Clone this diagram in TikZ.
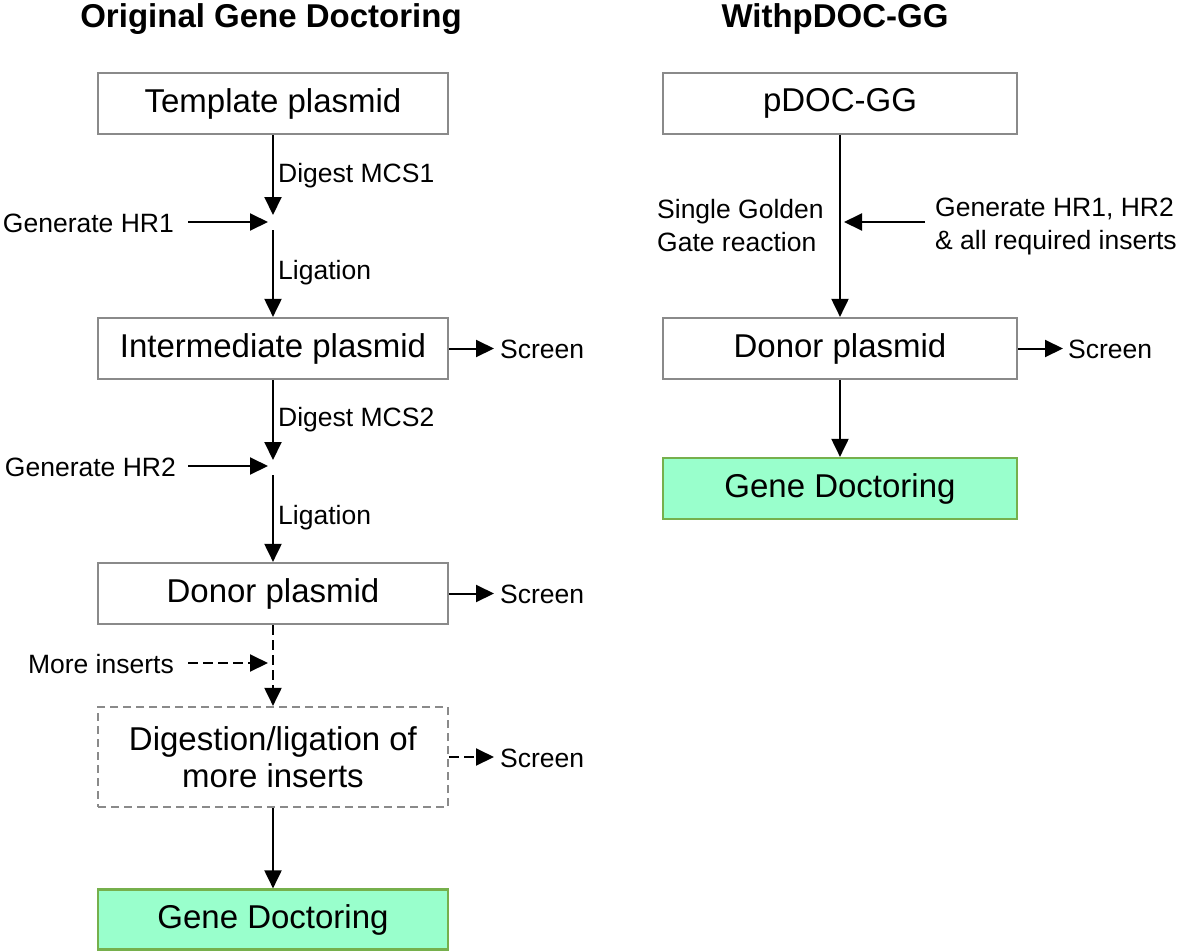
\documentclass[tikz,border=0pt]{standalone}
\usepackage{fontspec}
\setmainfont{Liberation Sans}
\usetikzlibrary{arrows.meta}
\definecolor{boxgray}{RGB}{138,138,138}
\definecolor{gdfill}{RGB}{153,255,204}
\definecolor{gdline}{RGB}{118,176,76}
\begin{document}
\begin{tikzpicture}[x=1pt,y=-1pt,
  box/.style={draw=boxgray,line width=2.2pt,minimum height=61pt,inner sep=0pt,
    font=\fontsize{33}{37}\selectfont,align=center},
  lbox/.style={box,minimum width=350pt},
  rbox/.style={box,minimum width=354pt},
  gdbox/.style={draw=gdline,fill=gdfill},
  dbox/.style={dash pattern=on 8pt off 5pt},
  lab/.style={font=\fontsize{26.5}{33}\selectfont,inner sep=0pt,align=left},
  ttl/.style={font=\fontsize{33}{37}\selectfont\bfseries,inner sep=0pt},
  arr/.style={line width=2pt,-{Triangle[length=18pt,width=17pt]}},
  darr/.style={arr,dash pattern=on 10pt off 5pt},
]
\useasboundingbox (0,0) rectangle (1181,951);

% titles
\node[ttl] (t1) at (271,19) {Original Gene Doctoring};
\node[ttl] (t2) at (835,19) {WithpDOC-GG};

% left column boxes
\node[lbox] (tp) at (273,103.5) {Template plasmid};
\node[lbox] (ip) at (273,348.5) {Intermediate plasmid};
\node[lbox] (dp) at (273,593.5) {Donor plasmid};
\node[lbox,dbox,minimum height=100pt] (db) at (273,757) {Digestion/ligation of\\more inserts};
\node[lbox,gdbox,minimum height=60pt] (gd1) at (273,919.5) {Gene Doctoring};

% left junctions
\coordinate (j1a) at (273,215);
\coordinate (j1b) at (273,230);
\coordinate (j1c) at (268,222);
\coordinate (g1s) at (188,222);
\coordinate (j2a) at (273,460);
\coordinate (j2b) at (273,475);
\coordinate (j2c) at (268,466);
\coordinate (g2s) at (188,466);
\coordinate (j3c) at (268,663);
\coordinate (m3s) at (188,663);

% left labels
\node[lab,anchor=west] (d1) at (278,176) {Digest MCS1};
\node[lab,anchor=west] (l1) at (278,273) {Ligation};
\node[lab,anchor=east] (h1) at (174,223) {Generate HR1};
\node[lab,anchor=west] (d2) at (278,420) {Digest MCS2};
\node[lab,anchor=west] (l2) at (278,518) {Ligation};
\node[lab,anchor=east] (h2) at (176,467) {Generate HR2};
\node[lab,anchor=east] (mi) at (174,664) {More inserts};

% screens left
\coordinate (s1) at (494,348.5);
\coordinate (s2) at (494,593.5);
\coordinate (s3) at (494,757);
\node[lab,anchor=west] (sc1) at (500,349) {Screen};
\node[lab,anchor=west] (sc2) at (500,594) {Screen};
\node[lab,anchor=west] (sc3) at (500,758) {Screen};

% left arrows
\draw[arr] (tp.south) -- (j1a);
\draw[arr] (g1s) -- (j1c);
\draw[arr] (j1b) -- (ip.north);
\draw[arr] (ip.south) -- (j2a);
\draw[arr] (g2s) -- (j2c);
\draw[arr] (j2b) -- (dp.north);
\draw[darr] (dp.south) -- (db.north);
\draw[darr] (m3s) -- (j3c);
\draw[arr] (db.south) -- (gd1.north);
\draw[arr] (ip.east) -- (s1);
\draw[arr] (dp.east) -- (s2);
\draw[darr] (db.east) -- (s3);

% right column
\node[rbox] (pd) at (840,103.5) {pDOC-GG};
\node[rbox] (rdp) at (840,348.5) {Donor plasmid};
\node[rbox,gdbox] (gd2) at (840,488.5) {Gene Doctoring};

\coordinate (rj) at (844,222);
\coordinate (rs) at (925,222);
\coordinate (s4) at (1063,348.5);

\node[lab,anchor=west] (sg) at (657,226) {Single Golden\\Gate reaction};
\node[lab,anchor=west] (gh) at (935,226) {Generate HR1, HR2\\\& all required inserts};
\node[lab,anchor=west] (sc4) at (1068,349) {Screen};

\draw[arr] (pd.south) -- (rdp.north);
\draw[arr] (rs) -- (rj);
\draw[arr] (rdp.east) -- (s4);
\draw[arr] (rdp.south) -- (gd2.north);
\end{tikzpicture}
\end{document}
